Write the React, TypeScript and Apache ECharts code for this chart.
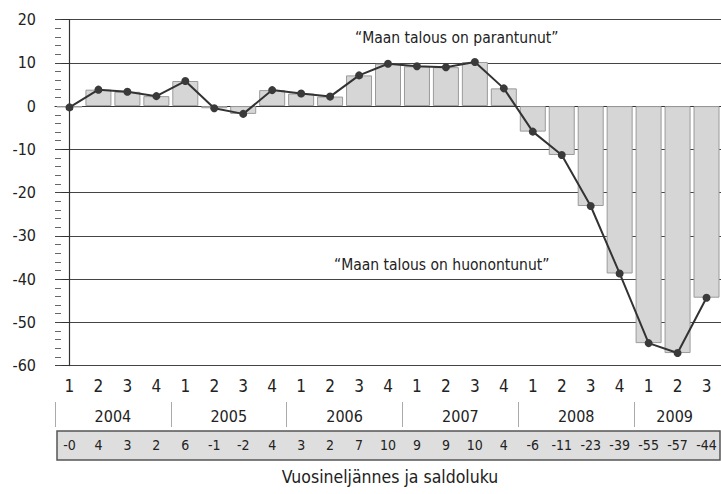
import React, { useEffect, useRef } from "react";
import * as echarts from "echarts";

const quarters = ["1","2","3","4","1","2","3","4","1","2","3","4","1","2","3","4","1","2","3","4","1","2","3"];
const years = ["2004", "2005", "2006", "2007", "2008", "2009"];
const quartersPerYear = [4, 4, 4, 4, 4, 3];
const saldo = [-0.3, 3.8, 3.3, 2.3, 5.8, -0.5, -1.8, 3.7, 2.9, 2.2, 7.1, 9.8, 9.2, 9.0, 10.2, 4.1, -5.9, -11.3, -23.1, -38.7, -54.8, -57.1, -44.3];
const tableLabels = ["-0","4","3","2","6","-1","-2","4","3","2","7","10","9","9","10","4","-6","-11","-23","-39","-55","-57","-44"];
const yTicks = { min: -60, max: 20, interval: 10 };
const noteUp = "\u201CMaan talous on parantunut\u201D";
const noteDown = "\u201CMaan talous on huonontunut\u201D";
const axisTitle = "Vuosineljännes ja saldoluku";

const FONT = "'DejaVu Sans Condensed', 'DejaVu Sans', sans-serif";
const INK = "#222";

export default function App() {
  const ref = useRef<HTMLDivElement>(null);
  useEffect(() => {
    document.body.style.margin = "0";
    const chart = echarts.init(ref.current!, null, { renderer: "svg" });

    const yearCenters: number[] = [];
    const yearStarts: number[] = [];
    let s = 0;
    quartersPerYear.forEach((n) => {
      yearStarts.push(s - 0.5);
      yearCenters.push(s + (n - 1) / 2 + (n < 4 ? -0.1 : 0));
      s += n;
    });

    const left = 55;
    const top = 19.6;
    const bandW = 29.05;
    const gridW = bandW * quarters.length;
    const gridH = 346;
    const bottomY = top + gridH;

    chart.setOption({
      animation: false,
      textStyle: { fontFamily: FONT },
      grid: { left, top, width: gridW, height: gridH, containLabel: false },
      xAxis: [
        {
          type: "category",
          data: quarters,
          position: "bottom",
          axisLine: { show: true, lineStyle: { color: "#333", width: 1 } },
          axisTick: { show: false },
          axisLabel: { interval: 0, fontSize: 17, color: INK, margin: 12, fontFamily: FONT },
          splitLine: { show: false },
        },
        {
          type: "category",
          data: quarters,
          position: "bottom",
          axisLine: { show: false },
          axisTick: { show: false },
          axisLabel: {
            interval: 0, fontSize: 14, color: INK, margin: 445 - bottomY - 7, fontFamily: FONT,
            formatter: (_v: string, i: number) => tableLabels[i],
          },
          splitLine: { show: false },
        },
        {
          type: "value",
          min: -0.5,
          max: quarters.length - 0.5,
          position: "bottom",
          offset: 402 - bottomY,
          axisLine: { show: false },
          axisTick: { show: true, customValues: yearStarts, length: 25, lineStyle: { color: "#aaa", width: 1 } },
          axisLabel: {
            customValues: yearCenters,
            fontSize: 16, color: INK, margin: 6, fontFamily: FONT,
            formatter: (v: number) => {
              const k = yearCenters.findIndex((c) => Math.abs(c - v) < 0.01);
              return k >= 0 ? years[k] : "";
            },
          },
          splitLine: { show: false },
        },
      ],
      yAxis: [
        {
          type: "value",
          ...yTicks,
          axisLine: { show: true, lineStyle: { color: "#333", width: 1.2 } },
          axisTick: { show: true, length: 8, lineStyle: { color: "#333" } },
          axisLabel: { fontSize: 16, color: INK, margin: 19, fontFamily: FONT },
          splitLine: { show: true, lineStyle: { color: "#444", width: 1 } },
        },
        {
          type: "value",
          ...yTicks,
          position: "left",
          axisLine: { show: false },
          axisTick: { show: false, inside: true },
          minorTick: { show: true, splitNumber: 5, length: 6, lineStyle: { color: "#666" } },
          axisLabel: { show: false },
          splitLine: { show: false },
        },
      ],
      series: [
        {
          type: "bar",
          data: saldo,
          barWidth: 26,
          itemStyle: { color: "#d6d6d6", borderColor: "#9a9a9a", borderWidth: 1 },
          z: 2,
        },
        {
          type: "line",
          data: saldo,
          symbol: "circle",
          symbolSize: 8,
          lineStyle: { color: "#333", width: 2 },
          itemStyle: { color: "#3a3a3a" },
          z: 3,
        },
      ],
      graphic: [
        {
          type: "rect",
          z: 0,
          shape: { x: 57, y: 431, width: 663, height: 29 },
          style: { fill: "#dedede", stroke: "#555", lineWidth: 1.5 },
        },
        {
          type: "text",
          x: 355, y: 38,
          style: { text: noteUp, font: `15.5px ${FONT}`, fill: INK, verticalAlign: "middle" },
        },
        {
          type: "text",
          x: 334, y: 265,
          style: { text: noteDown, font: `15.5px ${FONT}`, fill: INK, verticalAlign: "middle" },
        },
        {
          type: "text",
          x: 390, y: 477,
          style: { text: axisTitle, font: `17.5px ${FONT}`, fill: INK, align: "center", verticalAlign: "middle" },
        },
      ],
    });
    return () => chart.dispose();
  }, []);
  return (
    <div
      ref={ref}
      style={{ position: "fixed", left: 0, top: 0, width: 721, height: 494, overflow: "hidden", background: "#fff" }}
    />
  );
}
